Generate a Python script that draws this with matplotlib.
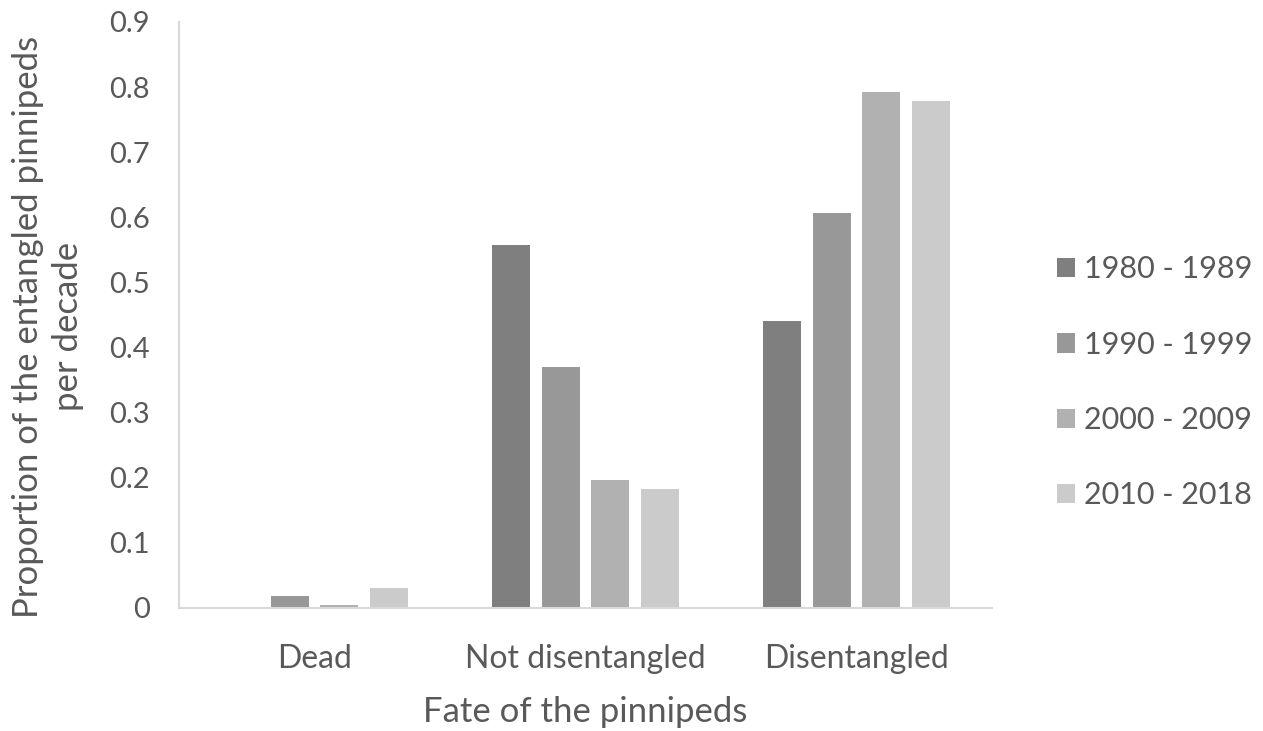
import numpy as np
import matplotlib.pyplot as plt

plt.rcParams['font.family'] = ['Lato', 'DejaVu Sans']

categories = ['Dead', 'Not disentangled', 'Disentangled']
decades = ['1980 - 1989', '1990 - 1999', '2000 - 2009', '2010 - 2018']
v1980 = [0.0, 0.558, 0.44]
v1990 = [0.018, 0.37, 0.607]
v2000 = [0.005, 0.196, 0.793]
v2010 = [0.031, 0.183, 0.778]
series = [v1980, v1990, v2000, v2010]
colors = ['#7f7f7f', '#989898', '#b1b1b1', '#cbcbcb']

fig = plt.figure(figsize=(12.63, 7.31), dpi=100)
ax = fig.add_axes([0.1417, 0.1683, 0.6437, 0.8017])

x = np.arange(len(categories))
pitch = 0.183
for i, (vals, c, lab) in enumerate(zip(series, colors, decades)):
    ax.bar(x + (i - 1.5) * pitch, vals, width=0.14, color=c, label=lab)

ax.set_xlim(-0.5, 2.5)
ax.set_ylim(0, 0.9)
ax.set_yticks(np.arange(0, 0.91, 0.1))
ax.set_yticklabels(['0'] + [f'{t:.1f}' for t in np.arange(0.1, 0.91, 0.1)])
ax.set_xticks(x)
ax.set_xticklabels(categories)
ax.tick_params(length=0, colors='#595959')
ax.tick_params(axis='y', pad=21, labelsize=21)
ax.tick_params(axis='x', pad=26, labelsize=23)
for s in ['top', 'right']:
    ax.spines[s].set_visible(False)
for s in ['left', 'bottom']:
    ax.spines[s].set_color('#d9d9d9')
    ax.spines[s].set_linewidth(1.5)

ax.set_xlabel('Fate of the pinnipeds', fontsize=25, color='#595959', labelpad=16)
ax.set_ylabel('Proportion of the entangled pinnipeds\nper decade', fontsize=25,
              color='#595959', linespacing=1.3, va='center')
ax.yaxis.set_label_coords(-0.161, 0.48)

ax.legend(loc='center left', bbox_to_anchor=(1.08, 0.385), frameon=False,
          borderaxespad=0, borderpad=0,
          fontsize=22, labelcolor='#595959', handlelength=0.6, handleheight=0.6,
          handletextpad=0.3, labelspacing=1.55)

fig.savefig('out.png', dpi=100)
